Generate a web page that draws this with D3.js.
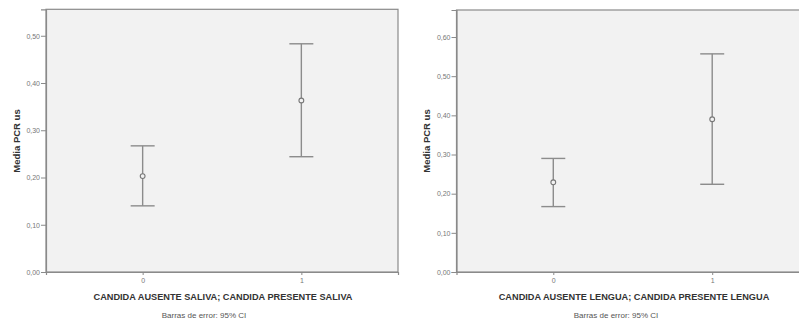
<!DOCTYPE html>
<html><head><meta charset="utf-8">
<script src="https://cdn.jsdelivr.net/npm/d3@7/dist/d3.min.js"></script>
<style>
html,body{margin:0;padding:0;background:#fff;}
svg{display:block;font-family:"Liberation Sans",Arial,sans-serif;}
</style></head>
<body>
<svg id="chart" width="799" height="325"></svg>
<script>
const categories = ["0", "1"];

const salivaMean = [0.203, 0.363];
const salivaLow  = [0.140, 0.244];
const salivaHigh = [0.267, 0.483];
const salivaTicks = [0, 0.1, 0.2, 0.3, 0.4, 0.5];
const salivaTitle = "CANDIDA AUSENTE SALIVA; CANDIDA PRESENTE SALIVA";

const lenguaMean = [0.229, 0.390];
const lenguaLow  = [0.167, 0.224];
const lenguaHigh = [0.290, 0.557];
const lenguaTicks = [0, 0.1, 0.2, 0.3, 0.4, 0.5, 0.6];
const lenguaTitle = "CANDIDA AUSENTE LENGUA; CANDIDA PRESENTE LENGUA";

const yTitle = "Media PCR us";
const footnote = "Barras de error: 95% CI";

const svg = d3.select("#chart");
const fmt = v => d3.format(".2f")(v).replace(".", ",");

function panel(cfg) {
  const g = svg.append("g");
  const x = d3.scalePoint().domain(categories).range([cfg.left, cfg.right]).padding(0.609);
  const y = d3.scaleLinear().domain([0, cfg.yMax]).range([cfg.bottom, cfg.top]);

  // plot background + frame
  g.append("rect")
    .attr("x", cfg.left).attr("y", cfg.top)
    .attr("width", cfg.right - cfg.left).attr("height", cfg.bottom - cfg.top)
    .attr("fill", "#f2f2f2").attr("stroke", "#8a8a8a").attr("stroke-width", 1.2);

  // y axis
  const ya = g.append("g").attr("transform", `translate(${cfg.left},0)`)
    .call(d3.axisLeft(y).tickValues(cfg.ticks).tickFormat(fmt).tickSize(5).tickPadding(1));
  ya.select(".domain").attr("stroke", "#8a8a8a").attr("stroke-width", 1.2);
  ya.selectAll(".tick line").attr("stroke", "#8a8a8a");
  ya.selectAll(".tick text").attr("fill", "#777").attr("font-size", "7px")
    .attr("font-family", "'Liberation Sans',Arial,sans-serif");

  // x axis
  const xa = g.append("g").attr("transform", `translate(0,${cfg.bottom})`)
    .call(d3.axisBottom(x).tickSize(3).tickPadding(3));
  xa.select(".domain").attr("stroke", "#8a8a8a").attr("stroke-width", 1.2);
  xa.selectAll(".tick line").attr("stroke", "#8a8a8a");
  xa.selectAll(".tick text").attr("fill", "#777").attr("font-size", "7px")
    .attr("font-family", "'Liberation Sans',Arial,sans-serif");

  // error bars
  const data = categories.map((c, i) => ({c, m: cfg.mean[i], lo: cfg.low[i], hi: cfg.high[i]}));
  const eb = g.append("g").attr("stroke", "#8c8c8c").attr("stroke-width", 1.4).attr("fill", "none");
  data.forEach(d => {
    const cx = x(d.c);
    eb.append("line").attr("x1", cx).attr("x2", cx).attr("y1", y(d.lo)).attr("y2", y(d.hi));
    eb.append("line").attr("x1", cx - 12).attr("x2", cx + 12).attr("y1", y(d.hi)).attr("y2", y(d.hi));
    eb.append("line").attr("x1", cx - 12).attr("x2", cx + 12).attr("y1", y(d.lo)).attr("y2", y(d.lo));
    eb.append("circle").attr("cx", cx).attr("cy", y(d.m)).attr("r", 2.4)
      .attr("fill", "#f2f2f2").attr("stroke", "#777").attr("stroke-width", 1.1);
  });

  // y title
  g.append("text")
    .attr("transform", `translate(${cfg.yTitleX},${cfg.yTitleY}) rotate(-90)`)
    .attr("text-anchor", "middle").attr("dy", "0.35em")
    .attr("font-size", "9.5px").attr("font-weight", "bold").attr("fill", "#333")
    .text(yTitle);

  // x title
  g.append("text")
    .attr("x", cfg.xTitleX).attr("y", 300)
    .attr("text-anchor", "middle")
    .attr("font-size", "9.2px").attr("font-weight", "bold").attr("fill", "#333")
    .text(cfg.title);

  // footnote
  g.append("text")
    .attr("x", cfg.noteX).attr("y", 318)
    .attr("text-anchor", "middle")
    .attr("font-size", "8px").attr("fill", "#555")
    .text(footnote);
}

panel({left: 46, right: 398, top: 9.3, bottom: 272, yMax: 0.556, ticks: salivaTicks,
  mean: salivaMean, low: salivaLow, high: salivaHigh, title: salivaTitle,
  yTitleX: 17, yTitleY: 141, xTitleX: 223, noteX: 204});
panel({left: 456.5, right: 809, top: 10, bottom: 272, yMax: 0.669, ticks: lenguaTicks,
  mean: lenguaMean, low: lenguaLow, high: lenguaHigh, title: lenguaTitle,
  yTitleX: 427, yTitleY: 141, xTitleX: 634, noteX: 616});
</script>
</body></html>
